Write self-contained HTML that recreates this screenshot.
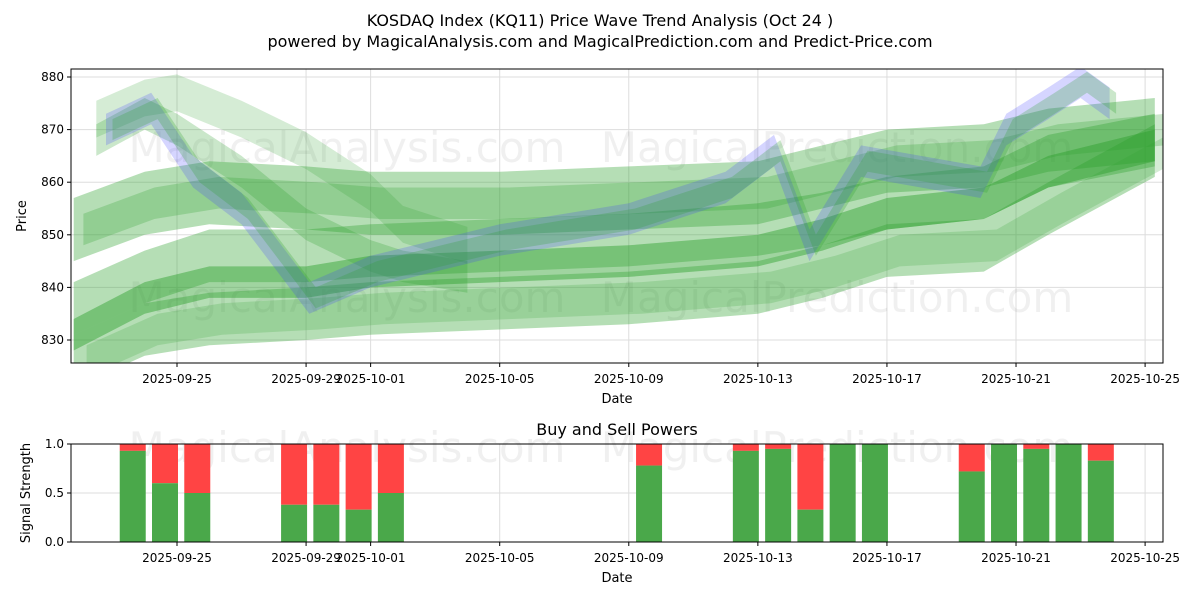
<!DOCTYPE html>
<html><head><meta charset="utf-8">
<style>
body{margin:0;background:#fff;font-family:"Liberation Sans","DejaVu Sans",sans-serif;}
svg text{font-family:"DejaVu Sans","Liberation Sans",sans-serif;}
</style></head>
<body>
<svg id="chart" width="1200" height="600" xmlns="http://www.w3.org/2000/svg">
<rect width="1200" height="600" fill="#fff"/>
<text x="600" y="26" text-anchor="middle" font-size="16">KOSDAQ Index (KQ11) Price Wave Trend Analysis (Oct 24 )</text>
<text x="600" y="47" text-anchor="middle" font-size="16">powered by MagicalAnalysis.com and MagicalPrediction.com and Predict-Price.com</text>
<g id="topPanel"></g>
<g id="botPanel"></g>
</svg>
<script>
// ---- data ----
const xTickLabels=['2025-09-25','2025-09-29','2025-10-01','2025-10-05','2025-10-09','2025-10-13','2025-10-17','2025-10-21','2025-10-25'];
const xTickDays=[0,4,6,10,14,18,22,26,30];
const yTicks=[830,840,850,860,870,880];
const bandDays=[-3.2,-1,1,4,6,10,14,18,20,22,25,27,30.3];
const bandA=[851,856,858,857,856,856,857,858,861,864,865,868,870];
const bandB=[836,842,846,846,847,848,849,851,853,856,858,864,868];
const bandC=[826,832,834,835,836,837,838,840,843,847,848,855,866];
const bandD=[831,838,841,841,843,844,845,847,850,854,856,862,867];
const priceDays=[-2.2,-0.8,0.5,2,4.1,6,8,10,14,17,18.5,19.6,21.2,24.9,25.7,27,28,28.9];
const priceVals=[870,874,862,855,838,843,846,849,853,859,866,848,864,860,870,875,879,875];
const fanDays=[-2.5,-1,0,2,4,6,7,9];
const fanVals=[872,876,877,872,866,858,852,848];
const fan2Vals=[868,873,870,862,852,846,844,842];
const sigLabels=['09-24','09-25','09-26','09-29','09-30','10-01','10-02','10-10','10-13','10-14','10-15','10-16','10-17','10-20','10-21','10-22','10-23','10-24'];
const sigDays=[-1,0,1,4,5,6,7,15,18,19,20,21,22,25,26,27,28,29];
const buyVals=[0.93,0.6,0.5,0.38,0.38,0.33,0.5,0.78,0.93,0.95,0.33,1,1,0.72,1,0.95,1,0.83];
const sigTicks=[0,0.5,1];
// ---- axes ----
const NS='http://www.w3.org/2000/svg';
const L=71,R=1163;
const x=d=>177+d*32.27;
const y=p=>77+(880-p)*5.26;
const yb=v=>542-v*98;
function mk(tag,attrs,parent,txt){const e=document.createElementNS(NS,tag);for(const k in attrs)e.setAttribute(k,attrs[k]);if(txt!=null)e.textContent=txt;parent.appendChild(e);return e;}
const topG=document.getElementById('topPanel'),botG=document.getElementById('botPanel');
xTickDays.forEach((d,i)=>{
 const g=mk('line',{x1:x(d),x2:x(d),y1:69,y2:363,stroke:'#ddd','stroke-width':1},topG);
 
 const t=mk('line',{x1:x(d),x2:x(d),y1:363,y2:367,stroke:'#000'},topG);
 
 const l=mk('text',{x:x(d),y:383,'text-anchor':'middle','font-size':12},topG,xTickLabels[i]);
 
});
yTicks.forEach(p=>{
 const g=mk('line',{x1:L,x2:R,y1:y(p),y2:y(p),stroke:'#ddd'},topG);
 
 const t=mk('line',{x1:L-4,x2:L,y1:y(p),y2:y(p),stroke:'#000'},topG);
 
 const l=mk('text',{x:L-7,y:y(p)+4,'text-anchor':'end','font-size':12},topG,p);
 
});
[[347,148,'MagicalAnalysis.com'],[837,148,'MagicalPrediction.com'],[347,298,'MagicalAnalysis.com'],[837,298,'MagicalPrediction.com'],[347,448,'MagicalAnalysis.com'],[837,448,'MagicalPrediction.com']].forEach(w=>{
 const t=mk('text',{x:w[0],y:w[1]+14,'text-anchor':'middle','font-size':42,fill:'#000','fill-opacity':0.06},w[1]>400?botG:topG,w[2]);
 
});
const plotClip=mk('clipPath',{id:'plotclip'},mk('defs',{},topG));
mk('rect',{x:L,y:69,width:R-L,height:294},plotClip);
const bandsG=mk('g',{'clip-path':'url(#plotclip)'},topG);

function band(days,vals,half,color,op,name,shift){
 shift=shift||0;
 const up=days.map((d,i)=>[x(d+shift),y(vals[i]+half)]);
 const dn=days.map((d,i)=>[x(d+shift),y(vals[i]-half)]).reverse();
 const pts=up.concat(dn).map(p=>p[0].toFixed(1)+','+p[1].toFixed(1)).join(' ');
 const e=mk('polygon',{points:pts,fill:color,'fill-opacity':op},bandsG);
 
}
const G='#2ca02c';
band(bandDays,bandA,6,G,0.35,'band-upper');
band(bandDays,bandA,3,G,0.25,'band-upper-inner',0.3);
band(bandDays,bandB,5,G,0.35,'band-middle');
band(bandDays,bandC,5,G,0.35,'band-lower');
band(bandDays,bandC,3,G,0.2,'band-lower-inner',0.4);
band(bandDays,bandD,3,G,0.45,'band-core');
band(fanDays,fanVals,3.5,G,0.2,'fan-band');
band(fanDays,fan2Vals,3,G,0.25,'fan-band-2');
band(priceDays,priceVals,3,'#4040ff',0.22,'price-band');
band(priceDays,priceVals,2,G,0.25,'price-band-green',0.2);
mk('rect',{x:L,y:69,width:R-L,height:294,fill:'none',stroke:'#000'},topG);
const yl=mk('text',{x:26,y:216,'text-anchor':'middle','font-size':13,transform:'rotate(-90 26 216)'},topG,'Price');

const xl=mk('text',{x:617,y:403,'text-anchor':'middle','font-size':13},topG,'Date');

const bt=mk('text',{x:617,y:435,'text-anchor':'middle','font-size':16},botG,'Buy and Sell Powers');

xTickDays.forEach((d,i)=>{
 const g=mk('line',{x1:x(d),x2:x(d),y1:444,y2:542,stroke:'#ddd'},botG);
 
 const t=mk('line',{x1:x(d),x2:x(d),y1:542,y2:546,stroke:'#000'},botG);
 
 const l=mk('text',{x:x(d),y:562,'text-anchor':'middle','font-size':12},botG,xTickLabels[i]);
 
});
sigTicks.forEach(v=>{
 const g=mk('line',{x1:L,x2:R,y1:yb(v),y2:yb(v),stroke:'#ddd'},botG);
 
 const t=mk('line',{x1:L-4,x2:L,y1:yb(v),y2:yb(v),stroke:'#000'},botG);
 
 const l=mk('text',{x:L-7,y:yb(v)+4,'text-anchor':'end','font-size':12},botG,v.toFixed(1));
 
});
sigDays.forEach((d,i)=>{
 const cx=x(d)-12,w=26,b=buyVals[i];
 const s=mk('rect',{x:cx-w/2,y:yb(1),width:w,height:yb(b)-yb(1),fill:'#ff4444'},botG);
 
 const g=mk('rect',{x:cx-w/2,y:yb(b),width:w,height:yb(0)-yb(b),fill:'#4aa84a'},botG);
 
});
mk('rect',{x:L,y:444,width:R-L,height:98,fill:'none',stroke:'#000'},botG);
const yl2=mk('text',{x:30,y:493,'text-anchor':'middle','font-size':13,transform:'rotate(-90 30 493)'},botG,'Signal Strength');

const xl2=mk('text',{x:617,y:582,'text-anchor':'middle','font-size':13},botG,'Date');

</script>
</body></html>
